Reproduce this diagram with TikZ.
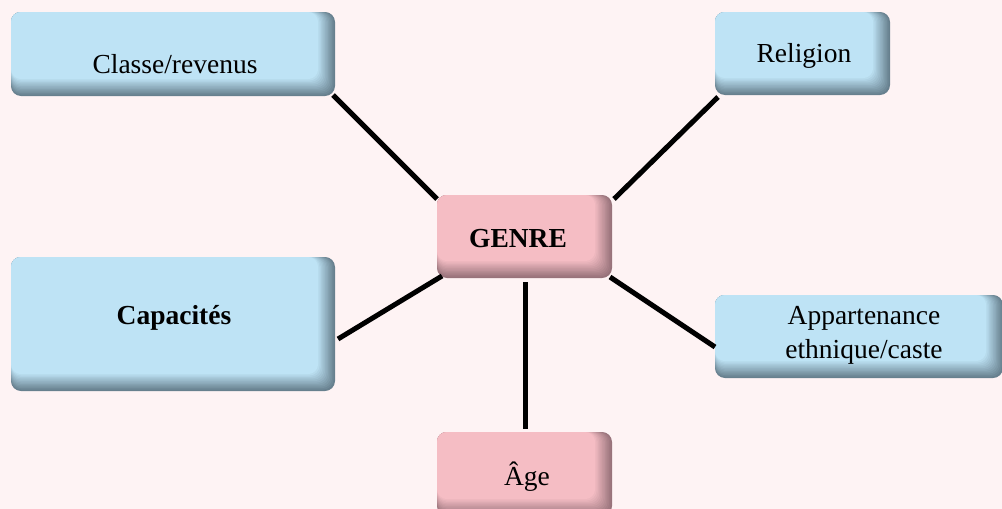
\documentclass[tikz,border=0pt]{standalone}
\usepackage{fontspec}
\setmainfont{Liberation Serif}
\usetikzlibrary{calc}
\definecolor{bgpink}{HTML}{FEF3F4}
\definecolor{blueL}{HTML}{BEE3F5}
\definecolor{blueD}{HTML}{67808E}
\definecolor{pinkL}{HTML}{F5BDC4}
\definecolor{pinkD}{HTML}{98737B}
\tikzset{
  boxn/.style={inner sep=0pt, outer sep=0pt},
  lbl/.style={font=\fontsize{27.5}{34}\selectfont, align=center, inner sep=0pt},
  lblb/.style={lbl, font=\fontsize{27.5}{34}\selectfont\bfseries},
  conn/.style={line width=5pt, black},
}
\newcommand{\shadebox}[3]{%
  \fill[#3, rounded corners=10pt] (#1.north west) rectangle (#1.south east);
  \foreach \k in {0,...,11} {
    \pgfmathsetmacro\ins{1.5+1.4*\k}
    \pgfmathsetmacro\pc{(\k+1)*100/12}
    \fill[#2!\pc!#3, rounded corners=10pt] (#1.north west) rectangle ($(#1.south east)+(-\ins,-\ins)$);
  }
}
\begin{document}
\begin{tikzpicture}[x=1pt,y=-1pt]
\fill[bgpink] (0,0) rectangle (1002,509);
\useasboundingbox (0,0) rectangle (1002,509);
% boxes
\node[boxn, minimum width=324pt, minimum height=84pt] (cls) at (173,54) {};
\node[boxn, minimum width=175pt, minimum height=83pt] (rel) at (802.5,53.5) {};
\node[boxn, minimum width=175pt, minimum height=83pt] (genre) at (524.5,236.5) {};
\node[boxn, minimum width=324pt, minimum height=134pt] (cap) at (173,324) {};
\node[boxn, minimum width=288pt, minimum height=83pt] (app) at (859,336.5) {};
\node[boxn, minimum width=175pt, minimum height=84pt] (age) at (524.5,474) {};
\shadebox{cls}{blueL}{blueD}
\shadebox{rel}{blueL}{blueD}
\shadebox{genre}{pinkL}{pinkD}
\shadebox{cap}{blueL}{blueD}
\shadebox{app}{blueL}{blueD}
\shadebox{age}{pinkL}{pinkD}
% texts
\node[lbl, anchor=base] (clsT) at (175,73) {Classe/revenus};
\node[lbl, anchor=base] (relT) at (804,62) {Religion};
\node[lblb, anchor=base] (genreT) at (518,247) {GENRE};
\node[lblb, anchor=base] (capT) at (174,324) {Capacités};
\node[lbl] (appT) at (864,335) {Appartenance\\ethnique/caste};
\node[lbl, anchor=base] (ageT) at (527,485) {Âge};
% connectors
\draw[conn] ($(cls.south east)+(-2,-1)$) -- ($(genre.north west)+(0,4)$);
\draw[conn] ($(rel.south west)+(3,2)$) -- ($(genre.north east)+(2,4)$);
\draw[conn] ($(cap.east)+(3,15)$) -- ($(genre.south west)+(5,-2)$);
\draw[conn] ($(genre.south east)+(-2,-1)$) -- ($(app.west)+(0,10.5)$);
\draw[conn] ($(genre.south)+(0.5,4)$) -- ($(age.north)+(0.5,-3)$);
\end{tikzpicture}
\end{document}
